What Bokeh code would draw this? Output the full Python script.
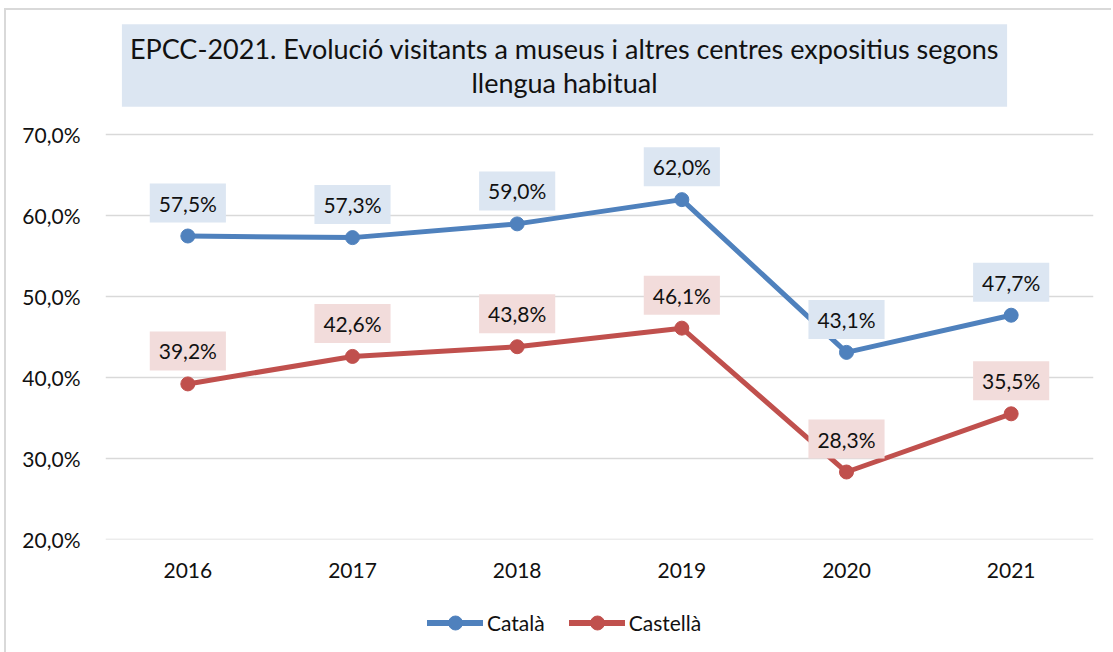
from bokeh.plotting import figure
from bokeh.layouts import column
from bokeh.models import (ColumnDataSource, Label, Legend, LegendItem, FixedTicker,
                          Range1d, FactorRange)
from bokeh.embed import file_html
from bokeh.resources import INLINE

# ---- data ----
years = ["2016", "2017", "2018", "2019", "2020", "2021"]
catala = [57.5, 57.3, 59.0, 62.0, 43.1, 47.7]
castella = [39.2, 42.6, 43.8, 46.1, 28.3, 35.5]
y_ticks = [20, 30, 40, 50, 60, 70]
series_names = ["Català", "Castellà"]
title_text = ("EPCC-2021. Evolució visitants a museus i altres centres expositius segons\n"
              "llengua habitual")

FONT = "Lato"
BLUE = "#4F81BD"
RED = "#C0504D"
LBLUE = "#DCE6F2"
LRED = "#F2DCDB"
TXT = "#111111"

def fmt(v):
    return f"{v:.1f}".replace(".", ",") + "%"

W = 1105
H1, H2 = 590, 52
p = figure(x_range=FactorRange(*years), y_range=Range1d(19.95, 85.4),
           width=W, height=H1, output_backend="svg", toolbar_location=None,
           min_border_left=99, min_border_right=18, min_border_top=0,
           min_border_bottom=H1 - 529)
p.outline_line_color = None
p.background_fill_color = "white"
p.border_fill_color = "white"

# grid / axes
p.xgrid.grid_line_color = None
p.ygrid.grid_line_color = "#d9d9d9"
p.ygrid.grid_line_width = 1.5
p.yaxis.ticker = FixedTicker(ticks=y_ticks)
p.yaxis.major_label_overrides = {t: fmt(t) for t in y_ticks}
for ax in (p.xaxis, p.yaxis):
    ax.axis_line_color = None
    ax.major_tick_line_color = None
    ax.minor_tick_line_color = None
    ax.major_label_text_font = FONT
    ax.major_label_text_font_size = "21px"
    ax.major_label_text_color = TXT
p.yaxis.major_label_standoff = 19
p.xaxis.major_label_standoff = 17

series = [(catala, BLUE, LBLUE), (castella, RED, LRED)]
for vals, col, bg in series:
    src = ColumnDataSource(dict(x=years, y=vals))
    p.line("x", "y", source=src, line_color=col, line_width=5,
           line_cap="round", line_join="round")
    p.scatter("x", "y", source=src, size=14, fill_color=col, line_color=col)
    for i, yv in enumerate(vals):
        # categorical position of factor i on the FactorRange is i + 0.5
        p.add_layout(Label(x=i + 0.5, y=yv, text=fmt(yv), y_offset=33,
                           text_align="center", text_baseline="middle",
                           text_font=FONT, text_font_size="21px", text_color=TXT,
                           background_fill_color=bg,
                           padding=dict(left=9, right=9, top=7, bottom=7)))

# title box
p.add_layout(Label(x=459, y=474, x_units="screen", y_units="screen", text=title_text,
                   text_align="center", text_baseline="middle",
                   text_font=FONT, text_font_size="27px", text_color=TXT,
                   text_line_height=1.02,
                   background_fill_color=LBLUE,
                   padding=dict(left=8, right=8, top=8, bottom=8)))

# ---- legend strip: same series drawn out of view, only its legend shows ----
lg = figure(width=W, height=H2, output_backend="svg", toolbar_location=None,
            x_axis_type=None, y_axis_type=None, min_border=0,
            x_range=FactorRange(*years), y_range=Range1d(0, 1))
lg.outline_line_color = None
lg.grid.visible = False
lg.background_fill_color = "white"
lg.border_fill_color = "white"
items = []
for name, (vals, col, bg) in zip(series_names, series):
    rl = lg.line(x=years, y=vals, line_color=col, line_width=6, line_cap="round")
    rs = lg.scatter(x=years, y=vals, size=14, fill_color=col, line_color=col)
    items.append(LegendItem(label=name, renderers=[rl, rs]))
legend = Legend(items=items, orientation="horizontal", location=(322, 12),
                glyph_width=56, glyph_height=35, label_height=35, label_standoff=4,
                spacing=24, padding=0, margin=0,
                label_text_font=FONT, label_text_font_size="21px", label_text_color=TXT,
                border_line_color=None, background_fill_alpha=0)
lg.add_layout(legend, "center")

layout = column(p, lg, spacing=0)
layout.styles = {"border-left": "2px solid #d9d9d9", "border-top": "2px solid #d9d9d9",
                 "margin-left": "4px", "margin-top": "8px"}

open("out.html", "w").write(file_html(layout, INLINE))
